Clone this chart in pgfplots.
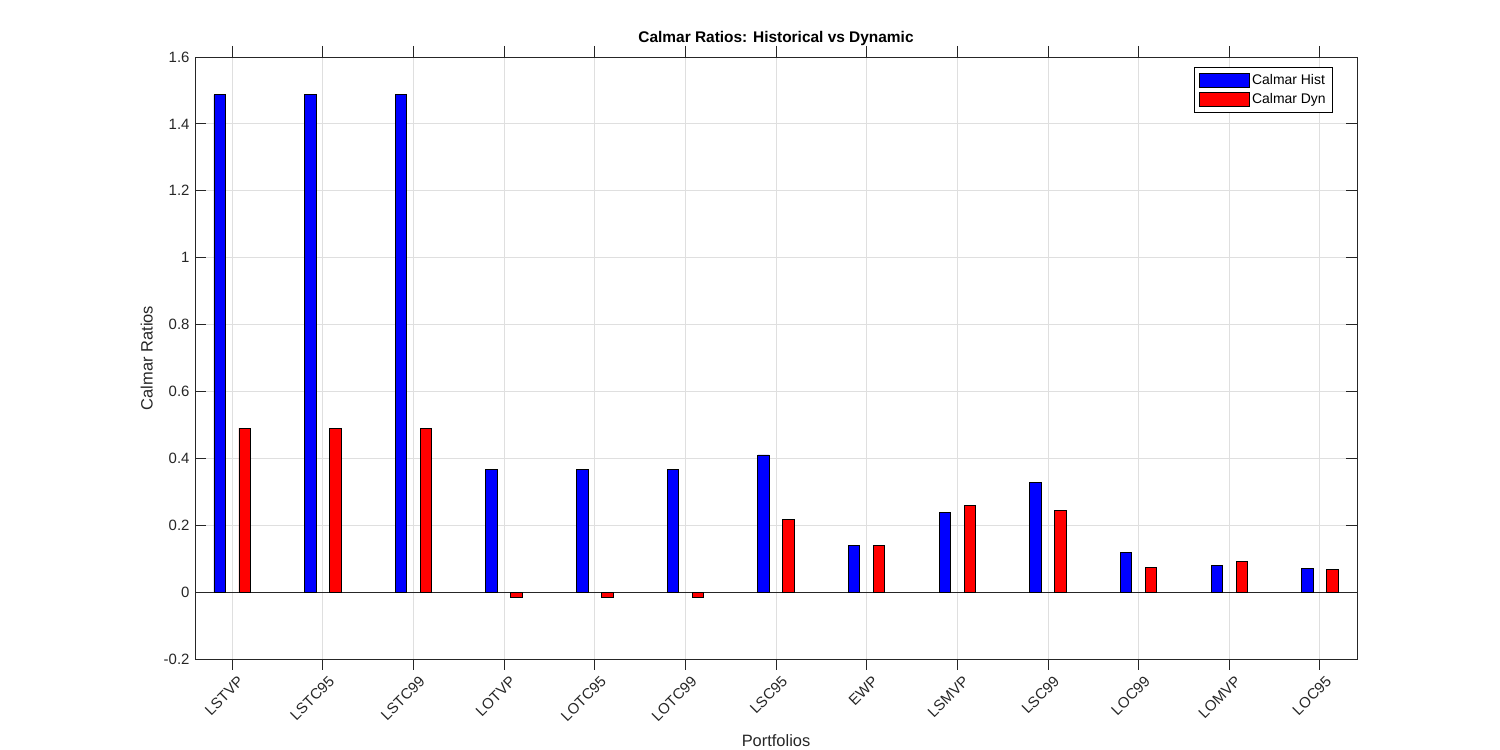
\documentclass[border=0pt]{standalone}
\usepackage{pgfplots}
\pgfplotsset{compat=1.18}
\usepackage{fontspec}
\setmainfont{Liberation Sans}
\definecolor{txt}{HTML}{262626}
\definecolor{gridc}{HTML}{DFDFDF}
\begin{document}
\begin{tikzpicture}[x=1bp,y=1bp]
\useasboundingbox (0,0) rectangle (1500,750);
\begin{axis}[
  at={(195bp,91bp)}, anchor=south west,
  scale only axis, width=1162bp, height=602bp,
  xmin=0.59, xmax=13.41, ymin=-0.2, ymax=1.6,
  xtick={1,...,13},
  xticklabels={LSTVP,LSTC95,LSTC99,LOTVP,LOTC95,LOTC99,LSC95,EWP,LSMVP,LSC99,LOC99,LOMVP,LOC95},
  xticklabel style={rotate=45, anchor=north east, font=\fontsize{15}{17}\selectfont, text=txt, inner sep=2bp, yshift=-5bp, xshift=2bp},
  ytick={-0.2,0,0.2,0.4,0.6,0.8,1,1.2,1.4,1.6},
  yticklabel style={font=\fontsize{15}{17}\selectfont, text=txt, xshift=-2bp},
  /pgf/number format/assume math mode=true,
  /pgf/number format/fixed,
  tick align=inside,
  major tick length=11bp,
  tick style={txt, line width=0.8bp},
  axis line style={txt, line width=0.8bp},
  grid=major,
  major grid style={gridc, line width=0.8bp},
  title={Calmar Ratios: Historical vs Dynamic},
  title style={font=\bfseries\fontsize{15.5}{18}\selectfont, text=black, yshift=2bp},
  xlabel={Portfolios},
  ylabel={Calmar Ratios},
  label style={font=\fontsize{16.5}{19}\selectfont, text=txt},
  xlabel style={yshift=-6bp},
  ylabel style={yshift=4bp},
  ybar,
  bar width=0.126,
  legend style={at={(1,1)}, xshift=-24bp, yshift=-10bp, anchor=north east,
    draw=black, line width=0.6bp, font=\fontsize{14}{16}\selectfont, text=black,
    row sep=4bp, inner xsep=5bp, inner ysep=5bp},
  legend cell align=left,
  legend image code/.code={\draw[#1, line width=0.8bp] (0bp,-7bp) rectangle (50bp,7bp);},
]
\draw[txt, line width=0.8bp] (axis cs:0.59,0) -- (axis cs:13.41,0);
\addplot[ybar, bar shift=-0.138, fill=blue, draw=black, line width=0.8bp] coordinates {
 (1,1.487) (2,1.487) (3,1.487) (4,0.367) (5,0.367) (6,0.367) (7,0.410)
 (8,0.140) (9,0.239) (10,0.328) (11,0.119) (12,0.081) (13,0.072)};
\addplot[ybar, bar shift=0.138, fill=red, draw=black, line width=0.8bp] coordinates {
 (1,0.490) (2,0.490) (3,0.490) (4,-0.015) (5,-0.015) (6,-0.015) (7,0.218)
 (8,0.140) (9,0.260) (10,0.243) (11,0.075) (12,0.092) (13,0.069)};
\legend{Calmar Hist, Calmar Dyn}
\end{axis}
\end{tikzpicture}
\end{document}
